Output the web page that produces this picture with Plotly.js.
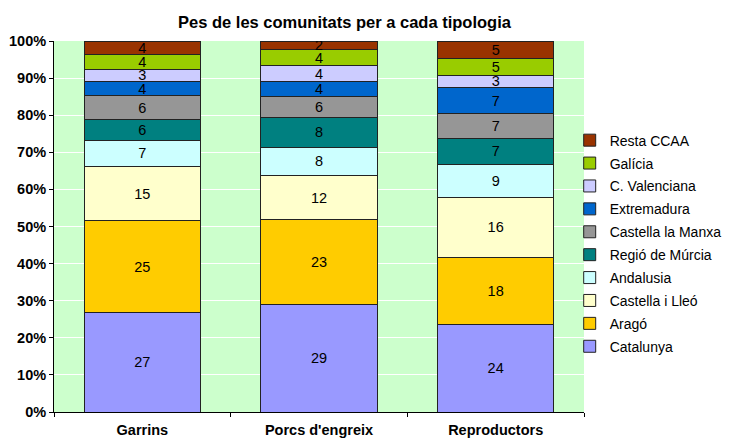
<!DOCTYPE html>
<html><head><meta charset="utf-8">
<script src="https://cdn.plot.ly/plotly-3.0.1.min.js"></script>
<style>body{margin:0;background:#fff}#c{width:729px;height:440px}</style>
</head><body><div id="c"></div>
<script>
const categories = ["Garrins", "Porcs d'engreix", "Reproductors"];
const seriesNames = ["Catalunya","Aragó","Castella i Lleó","Andalusia","Regió de Múrcia","Castella la Manxa","Extremadura","C. Valenciana","Galícia","Resta CCAA"];
const catalunya = [26.7, 29.0, 23.6];
const arago = [24.8, 22.8, 18.1];
const castellaLleo = [14.6, 11.9, 16.2];
const andalusia = [7.2, 7.7, 8.9];
const murcia = [5.6, 8.0, 7.0];
const manxa = [6.3, 5.6, 6.6];
const extremadura = [3.9, 4.0, 7.1];
const valenciana = [3.3, 4.4, 3.3];
const galicia = [3.9, 4.2, 4.6];
const resta = [3.7, 2.4, 4.6];
const seriesValues = [catalunya, arago, castellaLleo, andalusia, murcia, manxa, extremadura, valenciana, galicia, resta];
const colors = ["#9999FF","#FFCC00","#FFFFCC","#CCFFFF","#008080","#969696","#0066CC","#CCCCFF","#99CC00","#993300"];
const yTicks = [0,10,20,30,40,50,60,70,80,90,100];
const yTickText = yTicks.map(v => v + "%");

const traces = seriesNames.map((name, i) => ({
  type: 'bar',
  name: name,
  legendgroup: 'g' + i,
  legendrank: 100 - i,
  x: categories,
  y: seriesValues[i],
  marker: {color: colors[i], line: {color: '#222', width: 1}},
  texttemplate: '%{y:.0f}',
  textposition: 'inside',
  insidetextanchor: 'middle',
  textangle: 0,
  constraintext: 'none',
  textfont: {family: 'Liberation Sans, Arial, sans-serif', size: 14.5, color: '#000'},
  hoverinfo: 'none'
}));

const layout = {
  width: 729, height: 440,
  margin: {l: 54, r: 145, t: 41, b: 28, autoexpand: false},
  barmode: 'stack',
  bargap: 0.34,
  paper_bgcolor: '#fff',
  plot_bgcolor: '#CCFFCC',
  font: {family: 'Liberation Sans, Arial, sans-serif', color: '#000'},
  title: {text: '<b>Pes de les comunitats per a cada tipologia</b>', font: {size: 16.5, color: '#000'}, x: 344.5/729, xanchor: 'center', xref: 'container', y: 1 - 22.5/440, yanchor: 'middle', yref: 'container'},
  xaxis: {
    type: 'category',
    tickson: 'boundaries',
    ticks: 'outside', ticklen: 4, tickcolor: '#000',
    showline: true, linecolor: '#000', linewidth: 1,
    tickfont: {size: 14.5, color: '#000', weight: 'bold'},
    ticklabelstandoff: 5
  },
  yaxis: {
    range: [0, 100],
    tickvals: yTicks, ticktext: yTickText,
    ticks: 'outside', ticklen: 4, tickcolor: '#000',
    showline: true, linecolor: '#000', linewidth: 1,
    showgrid: true, gridcolor: '#fff', gridwidth: 1,
    zeroline: false,
    tickfont: {size: 14.5, color: '#000', weight: 'bold'}
  },
  legend: {
    traceorder: 'grouped',
    x: 0.973, xanchor: 'left', y: 0.454, yanchor: 'middle',
    bgcolor: 'rgba(0,0,0,0)',
    font: {size: 14, color: '#000'},
    tracegroupgap: 1.7,
    itemwidth: 30
  },
  showlegend: true
};
Plotly.newPlot('c', traces, layout, {displayModeBar: false, staticPlot: true});
</script></body></html>
